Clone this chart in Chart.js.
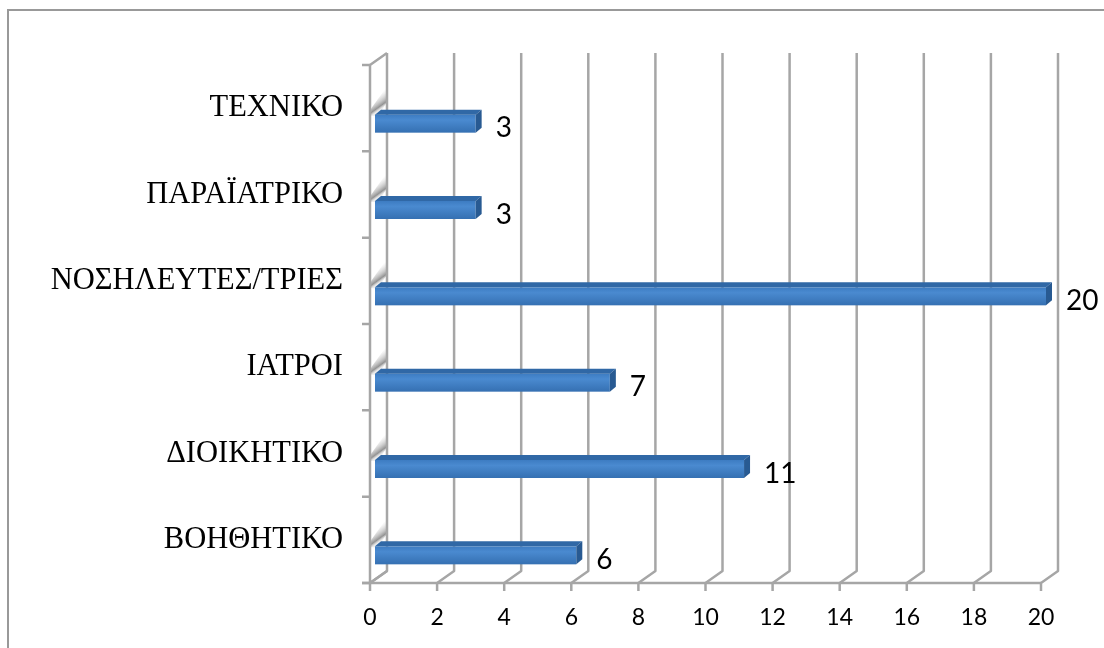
<!DOCTYPE html>
<html>
<head>
<meta charset="utf-8">
<script src="https://cdn.jsdelivr.net/npm/chart.js@4/dist/chart.umd.min.js"></script>
<style>
  html, body { margin: 0; padding: 0; background: #ffffff; }
  #wrap { width: 1104px; height: 648px; }
</style>
</head>
<body>
<div id="wrap"><canvas id="staffChart" width="1104" height="648"></canvas></div>
<script>
// Staff by category, listed bottom to top
const categories = ["ΒΟΗΘΗΤΙΚΟ", "ΔΙΟΙΚΗΤΙΚΟ", "ΙΑΤΡΟΙ", "ΝΟΣΗΛΕΥΤΕΣ/ΤΡΙΕΣ", "ΠΑΡΑΪΑΤΡΙΚΟ", "ΤΕΧΝΙΚΟ"];
const staffCounts = [6, 11, 7, 20, 3, 3];
const xTickValues = [0, 2, 4, 6, 8, 10, 12, 14, 16, 18, 20];

// depth of the back wall relative to the front plane
const DEPTH_X = 17;
const DEPTH_Y = -12;
const GRID = "#a6a6a6";

const frame3d = {
  id: "frame3d",
  beforeDatasetsDraw(chart) {
    const { ctx, chartArea: a, scales: { x } } = chart;
    ctx.save();

    // outer frame (only top and left edges fall inside the canvas)
    ctx.strokeStyle = "#999999";
    ctx.lineWidth = 2;
    ctx.strokeRect(8, 10, 1200, 800);

    // shadow streaks cast on the left wall above each bar
    const meta = chart.getDatasetMeta(0);
    meta.data.forEach(el => {
      const top = el.y + 6.5;
      const L = a.left;
      const g = ctx.createLinearGradient(L + 2, top - 16, L + 10, top - 5);
      g.addColorStop(0, "rgba(200,200,200,0)");
      g.addColorStop(0.55, "rgba(150,150,150,0.55)");
      g.addColorStop(0.8, "rgba(110,110,110,0.75)");
      g.addColorStop(1, "rgba(190,190,190,0.3)");
      ctx.fillStyle = g;
      ctx.beginPath();
      ctx.moveTo(L + 1, top - 6);
      ctx.lineTo(L + DEPTH_X - 1, top - 27);
      ctx.lineTo(L + DEPTH_X - 1, top - 11);
      ctx.lineTo(L + 8, top + 1);
      ctx.lineTo(L + 1, top + 1);
      ctx.closePath();
      ctx.fill();
    });

    ctx.strokeStyle = GRID;
    ctx.lineWidth = 2.5;
    ctx.lineJoin = "round";

    // left wall
    ctx.beginPath();
    ctx.moveTo(a.left, a.bottom);
    ctx.lineTo(a.left, a.top);
    ctx.lineTo(a.left + DEPTH_X, a.top + DEPTH_Y);
    ctx.moveTo(a.left, a.bottom);
    ctx.lineTo(a.left + DEPTH_X, a.bottom + DEPTH_Y);
    ctx.stroke();

    // category boundary ticks on the left edge
    const n = categories.length;
    const band = (a.bottom - a.top) / n;
    ctx.beginPath();
    for (let i = 0; i <= n; i++) {
      const ty = a.top + i * band;
      ctx.moveTo(a.left - 8, ty);
      ctx.lineTo(a.left, ty);
    }
    ctx.stroke();

    // floor front edge
    ctx.beginPath();
    ctx.moveTo(a.left - 8, a.bottom);
    ctx.lineTo(x.getPixelForValue(xTickValues[xTickValues.length - 1]), a.bottom);
    ctx.stroke();

    // back wall gridlines running down and across the floor
    ctx.beginPath();
    xTickValues.forEach(v => {
      const px = x.getPixelForValue(v);
      ctx.moveTo(px + DEPTH_X, a.top + DEPTH_Y);
      ctx.lineTo(px + DEPTH_X, a.bottom + DEPTH_Y);
      ctx.lineTo(px, a.bottom);
      ctx.lineTo(px, a.bottom + 8);
    });
    ctx.stroke();
    ctx.restore();
  },

  afterDatasetsDraw(chart) {
    const { ctx } = chart;
    const meta = chart.getDatasetMeta(0);
    ctx.save();
    meta.data.forEach((el, i) => {
      const h = el.height;
      const x0 = el.base + 5;
      const x1 = el.x + 5;
      const y0 = el.y + 15.5 - h / 2;
      const y1 = y0 + h;
      const dx = 6, dy = -5;

      // front face
      const fg = ctx.createLinearGradient(0, y0, 0, y1);
      fg.addColorStop(0, "#3d7cc2");
      fg.addColorStop(0.3, "#4a8ad0");
      fg.addColorStop(1, "#3570b2");
      ctx.fillStyle = fg;
      ctx.fillRect(x0, y0, x1 - x0, h);

      // top face
      ctx.fillStyle = "#3068a6";
      ctx.beginPath();
      ctx.moveTo(x0, y0);
      ctx.lineTo(x0 + dx, y0 + dy);
      ctx.lineTo(x1 + dx, y0 + dy);
      ctx.lineTo(x1, y0);
      ctx.closePath();
      ctx.fill();

      // end face
      ctx.fillStyle = "#285a92";
      ctx.beginPath();
      ctx.moveTo(x1, y0);
      ctx.lineTo(x1 + dx, y0 + dy);
      ctx.lineTo(x1 + dx, y1 + dy);
      ctx.lineTo(x1, y1);
      ctx.closePath();
      ctx.fill();

      // value label
      ctx.fillStyle = "#000000";
      ctx.font = "28px Lato";
      ctx.textAlign = "left";
      ctx.textBaseline = "middle";
      ctx.fillText(String(staffCounts[i]), x1 + dx + 14, el.y + 20);
    });
    ctx.restore();
  }
};

new Chart(document.getElementById("staffChart"), {
  type: "bar",
  data: {
    labels: categories,
    datasets: [{
      data: staffCounts,
      backgroundColor: "rgba(0,0,0,0)",
      barThickness: 18
    }]
  },
  options: {
    indexAxis: "y",
    responsive: false,
    animation: false,
    layout: { padding: { left: 0, right: 63, top: 65, bottom: 0 } },
    plugins: {
      legend: { display: false },
      tooltip: { enabled: false }
    },
    scales: {
      x: {
        min: 0,
        max: 20,
        afterBuildTicks: s => { s.ticks = xTickValues.map(v => ({ value: v })); },
        afterFit: s => { s.height = 65; },
        grid: { display: false, drawTicks: false },
        border: { display: false },
        ticks: { color: "#000000", font: { family: "Lato", size: 23 }, padding: 21, maxRotation: 0 }
      },
      y: {
        reverse: true,
        afterFit: s => { s.width = 370; },
        grid: { display: false, drawTicks: false },
        border: { display: false },
        ticks: { color: "#000000", font: { family: "Liberation Serif", size: 30.5 }, padding: 27 }
      }
    }
  },
  plugins: [frame3d]
});
</script>
</body>
</html>
